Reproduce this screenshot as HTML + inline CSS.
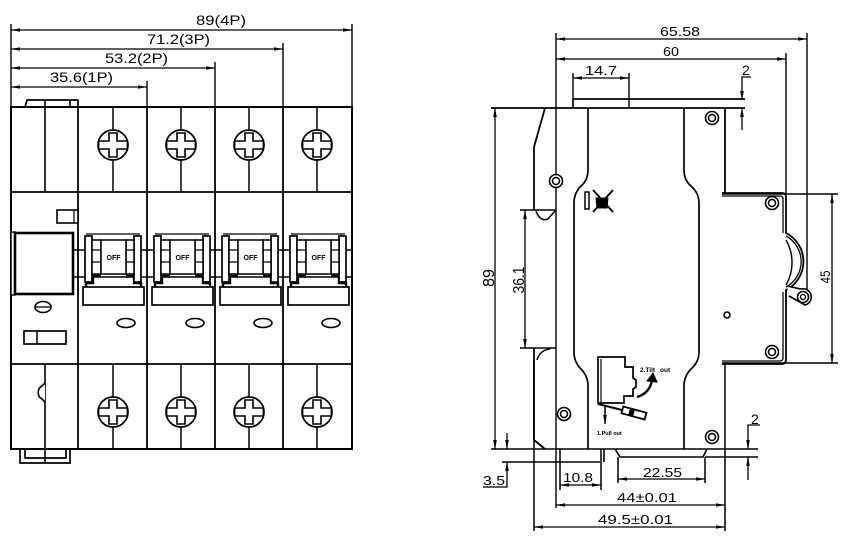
<!DOCTYPE html>
<html><head><meta charset="utf-8"><style>
html,body{margin:0;padding:0;background:#fff;}
svg{display:block;}
text{font-family:"Liberation Sans",sans-serif;fill:#000;}
</style></head><body>
<svg width="848" height="538" viewBox="0 0 848 538" xmlns="http://www.w3.org/2000/svg">
<defs>
<marker id="a" viewBox="0 0 9 3.6" refX="9" refY="1.8" markerWidth="9" markerHeight="3.6" markerUnits="userSpaceOnUse" orient="auto-start-reverse"><path d="M0,0L9,1.8L0,3.6Z" fill="#000"/></marker>
<g id="screw"><circle r="15" fill="#fff" stroke="#000" stroke-width="1.7"/><path d="M-14.4,-4H-4V-12H4V-4H14.4V4H4V12H-4V4H-14.4Z" fill="#fff" stroke="#000" stroke-width="1.6"/></g>
<g id="dc"><circle r="6.5" fill="#fff" stroke="#000" stroke-width="1.6"/><circle r="3.5" fill="none" stroke="#000" stroke-width="1.5"/></g>
<g id="handle" stroke="#000" fill="#fff">
<line x1="8" y1="234" x2="62" y2="234" stroke-width="1.3"/>
<path d="M8,287V283H15V276H23 M63,287V283H56V276H48" fill="none" stroke-width="2.4"/>
<rect x="5" y="287" width="61" height="18" stroke-width="1.7"/>
<rect x="7" y="236" width="7" height="46" stroke-width="1.7"/>
<rect x="56" y="236" width="7" height="46" stroke-width="1.7"/>
<rect x="14" y="240" width="9" height="34" stroke-width="1.5"/>
<rect x="48" y="240" width="8" height="34" stroke-width="1.5"/>
<path d="M14,250H23M14,262H23M48,250H56M48,262H56" stroke-width="1.2"/>
<rect x="23" y="240" width="25" height="34" stroke-width="1.5"/>
<text x="35.5" y="260" font-size="7" font-weight="bold" text-anchor="middle" stroke="none">OFF</text>
<ellipse cx="48" cy="323" rx="9" ry="4.5" stroke-width="1.6"/>
</g>
</defs>

<!-- ================= LEFT VIEW ================= -->
<g fill="none" stroke="#000">
<path d="M11,24V107 M352,24V107 M283,43V107 M215,62V107 M147,81V107" stroke-width="1.4"/>
<line x1="11" y1="30" x2="352" y2="30" stroke-width="1.3" marker-start="url(#a)" marker-end="url(#a)"/>
<line x1="11" y1="49" x2="283" y2="49" stroke-width="1.3" marker-start="url(#a)" marker-end="url(#a)"/>
<line x1="11" y1="68" x2="215" y2="68" stroke-width="1.3" marker-start="url(#a)" marker-end="url(#a)"/>
<line x1="11" y1="87" x2="147" y2="87" stroke-width="1.3" marker-start="url(#a)" marker-end="url(#a)"/>

<path d="M11,250H352 M11,277H352" stroke-width="1.4"/>
<rect x="11" y="107" width="341" height="342" stroke-width="2"/>
<path d="M11,192H352 M11,364H352" stroke-width="1.8"/>
<path d="M78,107V449 M147,107V449 M215,107V449 M283,107V449" stroke-width="1.8"/>
<path d="M45,100V192 M45,364V463" stroke-width="1.6"/>
<path d="M25,107L27,100H78V107 M70,100V107" stroke-width="1.7"/>
<path d="M20,449V463H70V449 M25,449V458H66V449" stroke-width="1.7"/>
<path d="M113,107V192 M181,107V192 M249,107V192 M317,107V192 M113,364V449 M181,364V449 M249,364V449 M317,364V449" stroke-width="1.5"/>
<rect x="57" y="210" width="21" height="13" fill="#fff" stroke-width="1.6"/>
<line x1="74" y1="210" x2="74" y2="223" stroke-width="1.2"/>
<rect x="11" y="232" width="4" height="63" fill="#fff" stroke-width="1.4"/>
<rect x="15" y="233" width="58" height="61" fill="#fff" stroke-width="2.6"/>
<ellipse cx="43" cy="307" rx="8" ry="5.5" fill="#fff" stroke-width="1.6"/>
<line x1="35" y1="307" x2="51" y2="307" stroke-width="1.3"/>
<rect x="24" y="331" width="42" height="13" fill="#fff" stroke-width="1.7"/>
<line x1="37" y1="331" x2="37" y2="344" stroke-width="1.5"/>
<path d="M45,383L42,386A6,7 0 0 0 42,399L45,402" fill="#fff" stroke-width="1.6"/>
</g>
<use href="#screw" x="113" y="145"/><use href="#screw" x="181" y="145"/><use href="#screw" x="249" y="145"/><use href="#screw" x="317" y="145"/>
<use href="#screw" x="113" y="412"/><use href="#screw" x="181" y="412"/><use href="#screw" x="249" y="412"/><use href="#screw" x="317" y="412"/>
<use href="#handle" x="78" y="0"/><use href="#handle" x="147" y="0"/><use href="#handle" x="215" y="0"/><use href="#handle" x="283" y="0"/>

<text x="196" y="25" font-size="14" textLength="50" lengthAdjust="spacingAndGlyphs">89(4P)</text>
<text x="147" y="44" font-size="14" textLength="63" lengthAdjust="spacingAndGlyphs">71.2(3P)</text>
<text x="105" y="63" font-size="14" textLength="63" lengthAdjust="spacingAndGlyphs">53.2(2P)</text>
<text x="50" y="82" font-size="14" textLength="63" lengthAdjust="spacingAndGlyphs">35.6(1P)</text>

<!-- ================= RIGHT VIEW ================= -->
<g fill="none" stroke="#000">
<path d="M556,33V508 M807,33V292 M786,53V194 M573,73V99 M629,73V108" stroke-width="1.4"/>
<path d="M534,360V531 M725,363V531 M560,449V490 M601,449V490 M618,457V483 M705,457V483" stroke-width="1.5"/>
<path d="M491,108H745 M573,108V99H745" stroke-width="1.7"/>
<path d="M491,449H758 M615,449L620,457H703L707,449 M705,457H758 M604,449V462 M502,462H600" stroke-width="1.6"/>
<path d="M520,210H556 M520,348H556 M722,194H838 M722,363H838" stroke-width="1.5"/>
<path d="M545,108L534,147V210" stroke-width="1.8"/>
<path d="M536,211Q540,222 548,219L555,211" stroke-width="1.6"/>
<path d="M534,348V440L545,449" stroke-width="1.8"/>
<path d="M537,360Q540,350 550,349" stroke-width="1.6"/>
<path d="M725,108V194" stroke-width="1.8"/>
<path d="M588,108V170Q588,180 581,186Q574,193 574,203V352Q574,362 581,369Q588,376 588,386V449" stroke-width="1.7"/>
<path d="M684,108V170Q684,180 691,186Q699,193 699,203V352Q699,362 691,369Q684,376 684,386V449" stroke-width="1.7"/>
<path d="M722,193H782Q786,193 786,197V233A32,32 0 0 1 786,290V359Q786,364 782,364H722" stroke-width="1.8"/>
<path d="M722,196H780Q783,196 783,199V233 M783,292V358Q783,361 780,361H722" stroke-width="1.3"/>
<path d="M786,240A45,45 0 0 1 786,285" stroke-width="1.4"/>
<path d="M786,236A29,29 0 0 1 786,287" stroke-width="1.3"/>
<path d="M787,286L801,289A8,8 0 0 1 805,305L789,296" fill="#fff" stroke-width="1.6"/>
<line x1="556" y1="39" x2="807" y2="39" stroke-width="1.3" marker-start="url(#a)" marker-end="url(#a)"/>
<line x1="556" y1="59" x2="786" y2="59" stroke-width="1.3" marker-start="url(#a)" marker-end="url(#a)"/>
<line x1="573" y1="78" x2="629" y2="78" stroke-width="1.3" marker-start="url(#a)" marker-end="url(#a)"/>
<path d="M751,77H742V100" stroke-width="1.3" marker-end="url(#a)"/>
<path d="M742,130V108" stroke-width="1.3" marker-end="url(#a)"/>
<line x1="495" y1="108" x2="495" y2="449" stroke-width="1.3" marker-start="url(#a)" marker-end="url(#a)"/>
<line x1="525" y1="210" x2="525" y2="348" stroke-width="1.3" marker-start="url(#a)" marker-end="url(#a)"/>
<line x1="832" y1="194" x2="832" y2="363" stroke-width="1.3" marker-start="url(#a)" marker-end="url(#a)"/>
<path d="M507,433V449" stroke-width="1.3" marker-end="url(#a)"/>
<path d="M483,487H507V462" stroke-width="1.3" marker-end="url(#a)"/>
<line x1="560" y1="485" x2="601" y2="485" stroke-width="1.3" marker-start="url(#a)" marker-end="url(#a)"/>
<line x1="618" y1="479" x2="705" y2="479" stroke-width="1.3" marker-start="url(#a)" marker-end="url(#a)"/>
<line x1="556" y1="505" x2="725" y2="505" stroke-width="1.3" marker-start="url(#a)" marker-end="url(#a)"/>
<line x1="534" y1="527" x2="725" y2="527" stroke-width="1.3" marker-start="url(#a)" marker-end="url(#a)"/>
<path d="M760,425H748V449" stroke-width="1.3" marker-end="url(#a)"/>
<path d="M748,480V457" stroke-width="1.3" marker-end="url(#a)"/>
<circle cx="727" cy="315" r="3" stroke-width="1.6"/>
<rect x="585" y="192" width="4" height="17" stroke-width="1.5"/>
<path d="M593,190L613,212 M613,190L593,212" stroke-width="1.8"/>
<path d="M596,198H608L607,208H597Z" fill="#000" stroke-width="1"/>
<path d="M598,357H625V367H633V378L636,380V387L633,389V396H624V403H598Z" stroke-width="1.7"/>
<path d="M601,359V403" stroke-width="1.2"/>
<path d="M598,404L622,410" stroke-width="2"/>
<path d="M605,406V424" stroke-width="1.5" marker-end="url(#a)"/>
<path d="M637,397Q650,393 652,380" stroke-width="2.4"/>
<path d="M647,381L653,373L657,382Z" fill="#000" stroke-width="1"/>
</g>
<g transform="translate(634,413) rotate(15)"><rect x="-12" y="-3.5" width="24" height="7" fill="#fff" stroke="#000" stroke-width="1.8"/><rect x="-5" y="-3.5" width="5" height="7" fill="#000"/></g>
<use href="#dc" x="712" y="118"/><use href="#dc" x="556" y="181"/><use href="#dc" x="772" y="203"/><use href="#dc" x="772" y="352"/><use href="#dc" x="564" y="414"/><use href="#dc" x="712" y="437"/>
<circle cx="803" cy="297" r="5.5" fill="#fff" stroke="#000" stroke-width="1.6"/><circle cx="803" cy="297" r="2.5" fill="none" stroke="#000" stroke-width="1.3"/>

<text x="640" y="372" font-size="6.5" font-weight="bold">2.Tilt</text>
<text x="660" y="372" font-size="6.5" font-weight="bold">out</text>
<text x="597" y="435" font-size="5.5" font-weight="bold">1.Pull out</text>

<text x="660" y="36" font-size="13" textLength="40" lengthAdjust="spacingAndGlyphs">65.58</text>
<text x="663" y="56" font-size="13" textLength="16" lengthAdjust="spacingAndGlyphs">60</text>
<text x="585" y="75" font-size="13" textLength="32" lengthAdjust="spacingAndGlyphs">14.7</text>
<text x="742" y="75" font-size="14">2</text>
<text x="483" y="485" font-size="13" textLength="22" lengthAdjust="spacingAndGlyphs">3.5</text>
<text x="563" y="482" font-size="13" textLength="30" lengthAdjust="spacingAndGlyphs">10.8</text>
<text x="643" y="477" font-size="13" textLength="39" lengthAdjust="spacingAndGlyphs">22.55</text>
<text x="617" y="502" font-size="13" textLength="60" lengthAdjust="spacingAndGlyphs">44±0.01</text>
<text x="598" y="524" font-size="13" textLength="75" lengthAdjust="spacingAndGlyphs">49.5±0.01</text>
<text x="751" y="424" font-size="14">2</text>
<text transform="translate(494,278) rotate(-90)" font-size="16" text-anchor="middle" textLength="18" lengthAdjust="spacingAndGlyphs">89</text>
<text transform="translate(524,280) rotate(-90)" font-size="16" text-anchor="middle" textLength="27" lengthAdjust="spacingAndGlyphs">36.1</text>
<text transform="translate(830,277) rotate(-90)" font-size="14" text-anchor="middle" textLength="13" lengthAdjust="spacingAndGlyphs">45</text>
</svg>
</body></html>
